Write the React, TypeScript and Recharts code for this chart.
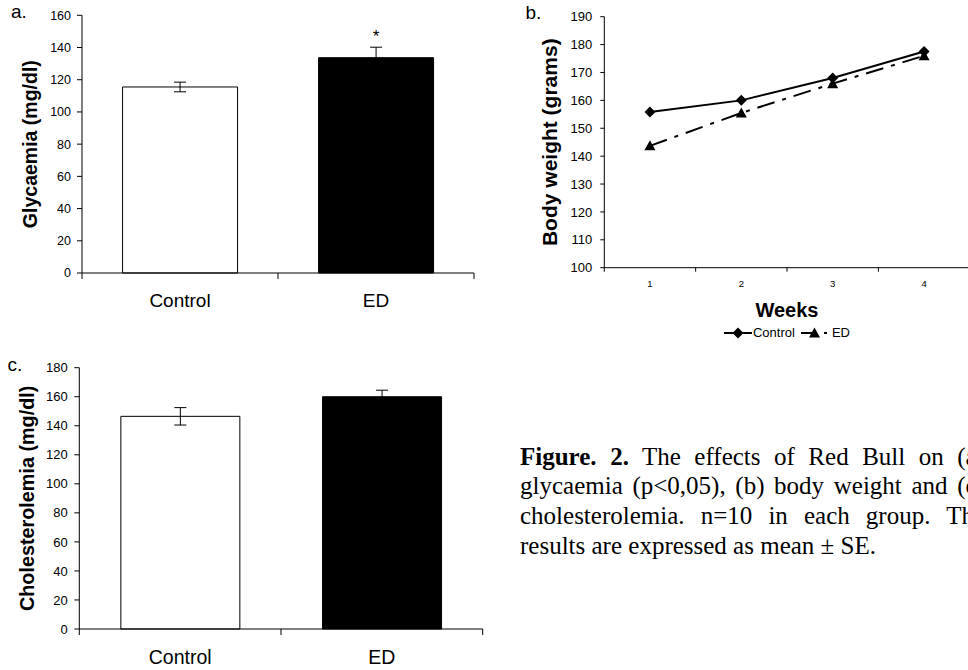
import React from 'react';
import {
  BarChart, Bar, XAxis, YAxis, Cell, ErrorBar, LabelList,
  LineChart, Line, Legend,
} from 'recharts';

// ---------- data ----------
const groups = ['Control', 'ED'];
const barFills = ['#ffffff', '#000000'];

const glycaemiaMean = [115.5, 133.7];
const glycaemiaSE = [3, 6.5];
const glycaemiaSig = ['', '*'];
const glycaemiaTicks = [0, 20, 40, 60, 80, 100, 120, 140, 160];

const cholesterolMean = [146.5, 160];
const cholesterolSE = [6, 4.5];
const cholesterolTicks = [0, 20, 40, 60, 80, 100, 120, 140, 160, 180];

const weeks = ['1', '2', '3', '4'];
const weightControl = [155.8, 160, 168, 177.5];
const weightED = [143.7, 155.5, 166, 176];
const weightTicks = [100, 110, 120, 130, 140, 150, 160, 170, 180, 190];

const glyData = groups.map((g, i) => ({ group: g, value: glycaemiaMean[i], se: glycaemiaSE[i], sig: glycaemiaSig[i] }));
const cholData = groups.map((g, i) => ({ group: g, value: cholesterolMean[i], se: cholesterolSE[i] }));
const weightData = weeks.map((w, i) => ({ week: w, Control: weightControl[i], ED: weightED[i] }));

const SANS = "'Liberation Sans', Arial, Helvetica, sans-serif";
const SERIF = "'Liberation Serif', 'Times New Roman', Times, serif";

// ---------- helpers ----------
const CategoryTick = (props: any) => {
  const { x, y, payload, width, visibleTicksCount, index, lblOff, lblSize, tickLen } = props;
  const band = width / visibleTicksCount;
  const last = index === visibleTicksCount - 1;
  return (
    <g>
      <line x1={x - band / 2} x2={x - band / 2} y1={y} y2={y + tickLen} stroke="#000" strokeWidth={1} />
      {last && <line x1={x + band / 2} x2={x + band / 2} y1={y} y2={y + tickLen} stroke="#000" strokeWidth={1} />}
      <text x={x} y={y + lblOff} dy="0.71em" textAnchor="middle" fontSize={lblSize} fontFamily={SANS} fill="#000">
        {payload.value}
      </text>
    </g>
  );
};

const YTitle = (props: any) => {
  const { viewBox, text, off, size } = props;
  const vb = viewBox || { x: 0, y: 0, width: 0, height: 0 };
  const cx = vb.x + off;
  const cy = vb.y + vb.height / 2;
  return (
    <text x={cx} y={cy} transform={`rotate(-90, ${cx}, ${cy})`} textAnchor="middle" dominantBaseline="central"
      fontSize={size} fontWeight="bold" fontFamily={SANS} fill="#000">
      {text}
    </text>
  );
};

const XTitle = (props: any) => {
  const { viewBox, text, off, size } = props;
  const vb = viewBox || { x: 0, y: 0, width: 0, height: 0 };
  return (
    <text x={vb.x + vb.width / 2} y={vb.y + off} textAnchor="middle" fontSize={size} fontWeight="bold" fontFamily={SANS} fill="#000">
      {text}
    </text>
  );
};

const StarLabel = (props: any) => {
  const { x, y, width, value } = props;
  if (!value) return null;
  return (
    <text x={x + width / 2} y={y - 15.5} textAnchor="middle" fontSize={17} fontFamily={SANS} fill="#000">
      {value}
    </text>
  );
};

const Diamond = ({ cx, cy }: any) => (
  <polygon points={`${cx},${cy - 5.5} ${cx + 5.5},${cy} ${cx},${cy + 5.5} ${cx - 5.5},${cy}`} fill="#000" />
);
const Triangle = ({ cx, cy }: any) => (
  <polygon points={`${cx},${cy - 5.5} ${cx + 5.5},${cy + 4.5} ${cx - 5.5},${cy + 4.5}`} fill="#000" />
);

const ED_DASH = '18 8 4 8';

const renderLegend = () => (
  <div style={{ display: 'flex', justifyContent: 'center', alignItems: 'center', height: 16, fontFamily: SANS, fontSize: 13, color: '#000' }}>
    <svg width={28} height={14} style={{ display: 'block' }}>
      <line x1={0} x2={28} y1={7} y2={7} stroke="#000" strokeWidth={2} />
      <Diamond cx={14} cy={7} />
    </svg>
    <span style={{ marginLeft: 1, lineHeight: '16px' }}>Control</span>
    <svg width={28} height={14} style={{ display: 'block', marginLeft: 6 }}>
      <line x1={0} x2={28} y1={7} y2={7} stroke="#000" strokeWidth={2} strokeDasharray="13 10 3 10" />
      <Triangle cx={13.5} cy={7} />
    </svg>
    <span style={{ marginLeft: 3, lineHeight: '16px' }}>ED</span>
  </div>
);

const panelLetter = (text: string, left: number, top: number) => (
  <div style={{ position: 'absolute', left, top, fontFamily: SANS, fontSize: 19, lineHeight: 1, color: '#000' }}>{text}</div>
);

const captionLine = (content: React.ReactNode, justify: boolean) => (
  <div style={{ textAlign: justify ? 'justify' : 'left', textAlignLast: justify ? 'justify' : 'left', height: 29.6 } as any}>
    {content}
  </div>
);

export default function App() {
  return (
    <div style={{ position: 'absolute', left: 0, top: 0, width: 968, height: 670, overflow: 'hidden', background: '#fff' }}>
      {panelLetter('a.', 11, 2.2)}
      {panelLetter('b.', 525.4, 3.2)}
      {panelLetter('c.', 7.6, 354.6)}

      {/* a. glycaemia */}
      <div style={{ position: 'absolute', left: 0, top: 0 }}>
        <BarChart width={480} height={320} data={glyData} margin={{ top: 15.3, right: 6, left: 0, bottom: 0 }} barCategoryGap="20.7%">
          <XAxis dataKey="group" height={47} axisLine={{ stroke: '#000' }} tickLine={false} tickSize={0} tickMargin={0} interval={0}
            tick={<CategoryTick lblOff={20.3} lblSize={19} tickLen={6} />} />
          <YAxis width={82} domain={[0, 160]} ticks={glycaemiaTicks} interval={0} stroke="#000" tickSize={5} tickMargin={6}
            tick={{ fill: '#000', fontSize: 12.5, fontFamily: SANS }}
            label={<YTitle text="Glycaemia (mg/dl)" off={30} size={19.5} />} />
          <Bar dataKey="value" stroke="#000" strokeWidth={1} isAnimationActive={false}>
            {glyData.map((d, i) => <Cell key={d.group} fill={barFills[i]} />)}
            <ErrorBar dataKey="se" width={6} stroke="#000" strokeWidth={1} direction="y" isAnimationActive={false} />
            <LabelList dataKey="sig" content={<StarLabel />} />
          </Bar>
        </BarChart>
      </div>

      {/* b. body weight */}
      <div style={{ position: 'absolute', left: 490, top: 0 }}>
        <LineChart width={485} height={345} data={weightData} margin={{ top: 16.7, right: 5.3, left: 0, bottom: 3.7 }}>
          <XAxis dataKey="week" height={57.6} padding={{ left: 45.65, right: 45.65 }} axisLine={{ stroke: '#000' }} tickLine={false}
            tickSize={0} tickMargin={0} interval={0}
            tick={<CategoryTick lblOff={12.3} lblSize={9.5} tickLen={4} />}
            label={<XTitle text="Weeks" off={49} size={20} />} />
          <YAxis width={114.3} domain={[100, 190]} ticks={weightTicks} interval={0} stroke="#000" tickSize={4} tickMargin={8}
            tick={{ fill: '#000', fontSize: 13, fontFamily: SANS }}
            label={<YTitle text="Body weight (grams)" off={60} size={21} />} />
          <Legend verticalAlign="bottom" height={16} content={renderLegend} wrapperStyle={{ left: 114.3, width: 365.3 }} />
          <Line dataKey="Control" stroke="#000" strokeWidth={2} isAnimationActive={false}
            dot={(p: any) => <Diamond key={`c${p.index}`} cx={p.cx} cy={p.cy} />} activeDot={false} />
          <Line dataKey="ED" stroke="#000" strokeWidth={2} strokeDasharray={ED_DASH} isAnimationActive={false}
            dot={(p: any) => <Triangle key={`e${p.index}`} cx={p.cx} cy={p.cy} />} activeDot={false} />
        </LineChart>
      </div>

      {/* c. cholesterolemia */}
      <div style={{ position: 'absolute', left: 0, top: 340 }}>
        <BarChart width={490} height={330} data={cholData} margin={{ top: 27.7, right: 7.3, left: 0, bottom: 0 }} barCategoryGap="20.6%">
          <XAxis dataKey="group" height={41} axisLine={{ stroke: '#000' }} tickLine={false} tickSize={0} tickMargin={0} interval={0}
            tick={<CategoryTick lblOff={21} lblSize={19.5} tickLen={6} />} />
          <YAxis width={79.3} domain={[0, 180]} ticks={cholesterolTicks} interval={0} stroke="#000" tickSize={5} tickMargin={6.5}
            tick={{ fill: '#000', fontSize: 13, fontFamily: SANS }}
            label={<YTitle text="Cholesterolemia (mg/dl)" off={27.5} size={19.8} />} />
          <Bar dataKey="value" stroke="#000" strokeWidth={1} isAnimationActive={false}>
            {cholData.map((d, i) => <Cell key={d.group} fill={barFills[i]} />)}
            <ErrorBar dataKey="se" width={6} stroke="#000" strokeWidth={1} direction="y" isAnimationActive={false} />
          </Bar>
        </BarChart>
      </div>

      {/* caption */}
      <div style={{ position: 'absolute', left: 520, top: 441.8, width: 465, fontFamily: SERIF, fontSize: 25, lineHeight: '29.6px', color: '#000' }}>
        {captionLine(<><b>Figure. 2.</b> The effects of Red Bull on (a)</>, true)}
        {captionLine(<>glycaemia (p&lt;0,05), (b) body weight and (c)</>, true)}
        {captionLine(<>cholesterolemia. n=10 in each group. The</>, true)}
        {captionLine(<>results are expressed as mean ± SE.</>, false)}
      </div>
    </div>
  );
}
